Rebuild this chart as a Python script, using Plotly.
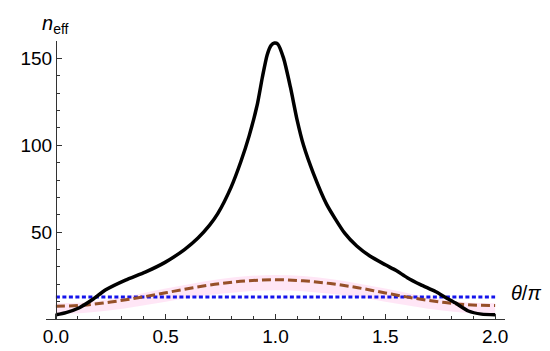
import plotly.graph_objects as go

# Black curve: n_eff vs theta/pi
theta_black = [0.0, 0.046, 0.107, 0.167, 0.227, 0.317, 0.407, 0.497, 0.587, 0.647,
               0.70, 0.737, 0.797, 0.842, 0.88, 0.918, 0.94, 0.962, 0.98, 0.995,
               1.01, 1.037, 1.068, 1.098, 1.128, 1.172, 1.233, 1.315, 1.37, 1.428,
               1.50, 1.548, 1.60, 1.66, 1.728, 1.78, 1.818, 1.878, 1.938, 2.0]
neff_black = [2.4, 3.7, 6.5, 11.2, 16.8, 22.4, 27.0, 32.6, 40.1, 46.6,
              54.0, 60.6, 75.6, 90.5, 105.4, 124.0, 139.0, 152.0, 157.5, 158.8,
              158.3, 150.0, 133.4, 114.8, 99.8, 84.0, 66.0, 49.4, 42.0, 36.4,
              31.2, 28.0, 23.8, 19.8, 15.8, 12.0, 9.3, 4.6, 2.8, 2.4]

# Brown dashed curve with pink band
theta_mid = [0.0, 0.125, 0.25, 0.375, 0.5, 0.625, 0.75, 0.875, 1.0,
             1.125, 1.25, 1.375, 1.5, 1.625, 1.75, 1.875, 2.0]
neff_mid = [7.4, 7.9, 9.8, 12.2, 15.1, 18.0, 20.4, 22.0, 22.6,
            22.0, 20.4, 18.0, 15.0, 12.1, 9.8, 8.2, 7.8]
band_hi = [9.0, 9.5, 11.5, 14.3, 17.5, 20.5, 23.0, 24.7, 25.3,
           24.7, 23.0, 20.5, 17.5, 14.3, 11.5, 9.5, 9.0]
band_lo = [3.0, 3.5, 5.0, 7.3, 10.0, 12.5, 14.5, 16.0, 16.5,
           16.0, 14.5, 12.5, 10.0, 7.3, 5.0, 3.5, 3.0]

# Blue dotted constant
theta_flat = [0.0, 2.0]
neff_flat = [12.7, 12.7]

fig = go.Figure()

# Pink band
fig.add_trace(go.Scatter(x=theta_mid, y=band_lo, mode="lines",
                         line=dict(width=0, shape="spline"), hoverinfo="skip"))
fig.add_trace(go.Scatter(x=theta_mid, y=band_hi, mode="lines", fill="tonexty",
                         fillcolor="rgba(255,210,238,0.55)",
                         line=dict(width=0, shape="spline"), hoverinfo="skip"))

# Blue dotted line
fig.add_trace(go.Scatter(x=theta_flat, y=neff_flat, mode="lines",
                         line=dict(color="rgb(20,20,235)", width=3, dash="4px,2.5px")))

# Brown dashed line
fig.add_trace(go.Scatter(x=theta_mid, y=neff_mid, mode="lines",
                         line=dict(color="rgb(150,80,40)", width=3,
                                   dash="9px,4px", shape="spline")))

# Black solid line
fig.add_trace(go.Scatter(x=theta_black, y=neff_black, mode="lines",
                         line=dict(color="black", width=3.5, shape="spline",
                                   smoothing=0.6)))

# Update the layout
fig.update_layout(width=550, height=351,
                  margin=dict(l=33, r=53, t=33, b=33),
                  paper_bgcolor="white", plot_bgcolor="white",
                  showlegend=False,
                  font=dict(family="Liberation Sans, Arial", size=19, color="black"))

fig.update_xaxes(range=[-0.045, 2.045], domain=[0, 1],
                 showgrid=False, zeroline=False,
                 showline=True, linecolor="#333", linewidth=1,
                 anchor="y",
                 tickmode="array", tickvals=[0, 0.5, 1.0, 1.5, 2.0],
                 ticktext=["0.0", "0.5", "1.0", "1.5", "2.0"],
                 ticks="inside", ticklen=5, tickcolor="#333",
                 minor=dict(ticks="inside", ticklen=3, dtick=0.1, tick0=0,
                            tickcolor="#333", showgrid=False))

fig.update_yaxes(range=[0, 160], showgrid=False, zeroline=False,
                 showline=True, linecolor="#333", linewidth=1,
                 anchor="free", position=0.045 / 2.09,
                 tickvals=[50, 100, 150],
                 ticks="inside", ticklen=5, tickcolor="#333",
                 minor=dict(ticks="inside", ticklen=3, dtick=10, tick0=0,
                            tickcolor="#333", showgrid=False))

# Axis labels
fig.add_annotation(text="<i>n</i><sub>eff</sub>", xref="paper", yref="paper",
                   x=0.0215, y=1.0, xanchor="center", yanchor="bottom",
                   showarrow=False, font=dict(size=20), yshift=2)
fig.add_annotation(text="<i>θ</i>/<i>π</i>", xref="paper", yref="paper",
                   x=1.0, y=0.095, xanchor="left", yanchor="middle",
                   showarrow=False, font=dict(size=20), xshift=4)

fig.write_html("out.html")
